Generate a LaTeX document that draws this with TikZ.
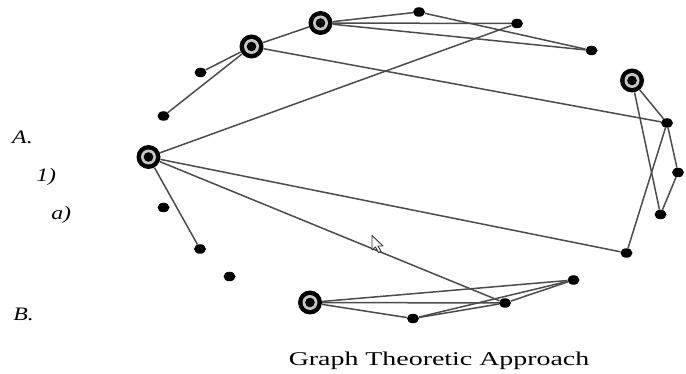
\documentclass[tikz,border=0pt]{standalone}
\usepackage{fontspec}
\setmainfont{Liberation Serif}
\usetikzlibrary{shapes.geometric}

\begin{document}
\begin{tikzpicture}[x=1pt, y=-1pt,
  hub/.style={circle, fill=black, minimum size=24pt, inner sep=0pt,
    path picture={\fill[gray!45] (path picture bounding box.center) circle (7.5pt);
                  \fill[black] (path picture bounding box.center) circle (4.8pt);}},
  dot/.style={ellipse, fill=black, minimum width=12pt, minimum height=9.5pt, inner sep=0pt},
  edge/.style={black!70, line width=1.5pt},
  lbl/.style={font=\itshape\fontsize{19}{22}\selectfont, anchor=base west, inner sep=0pt, xscale=1.25}]
\useasboundingbox (0,0) rectangle (686,374);

% outline labels
\node[lbl] (la) at (12,144) {A.};
\node[lbl] (l1) at (36,182) {1)};
\node[lbl] (lsa) at (51,220) {a)};
\node[lbl] (lb) at (13,320) {B.};

% ringed vertices
\node[hub] (h1) at (320.5,23) {};
\node[hub] (h2) at (251.5,46.5) {};
\node[hub] (h3) at (148.5,157) {};
\node[hub] (h4) at (632,80.5) {};
\node[hub] (h5) at (310,302.5) {};

% plain vertices
\node[dot] (d1) at (419,12) {};
\node[dot] (d2) at (517,23.5) {};
\node[dot] (d3) at (591.5,50.5) {};
\node[dot] (d4) at (200.5,72.5) {};
\node[dot] (d5) at (163.5,116) {};
\node[dot] (d6) at (667,123) {};
\node[dot] (d7) at (678,172.5) {};
\node[dot] (d8) at (660.5,214.5) {};
\node[dot] (d9) at (626.5,253) {};
\node[dot] (d10) at (163.5,207.5) {};
\node[dot] (d11) at (200,249) {};
\node[dot] (d12) at (229.5,276.5) {};
\node[dot] (d13) at (573.5,280) {};
\node[dot] (d14) at (505,303) {};
\node[dot] (d15) at (413,318.5) {};

% top group
\draw[edge] (h1) -- (d1);
\draw[edge] (d1) -- (d3);
\draw[edge] (h1) -- (d2);
\draw[edge] (h1) -- (d3);
\draw[edge] (h1) -- (h2);
\draw[edge] (h2) -- (d4);
\draw[edge] (h2) -- (d5);
\draw[edge] (h2) -- (d6);

% right group
\draw[edge] (h4) -- (d6);
\draw[edge] (h4) -- (d8);
\draw[edge] (d6) -- (d7);
\draw[edge] (d7) -- (d8);
\draw[edge] (d6) -- (d9);

% left hub
\draw[edge] (h3) -- (d2);
\draw[edge] (h3) -- (d11);
\draw[edge] (h3) -- (d9);
\draw[edge] (h3) -- (d14);

% bottom group
\draw[edge] (h5) -- (d13);
\draw[edge] (h5) -- (d14);
\draw[edge] (h5) -- (d15);
\draw[edge] (d15) -- (d14);
\draw[edge] (d15) -- (d13);
\draw[edge] (d14) -- (d13);

% mouse pointer
\draw[black!80, line width=0.9pt, fill=white, line join=round]
  (372,235.5) -- ++(0,14.5) -- ++(3.5,-3) -- ++(3,5.5) -- ++(2.5,-1.2) -- ++(-3,-5.3) -- ++(5,0) -- cycle;

% caption
\node[anchor=base, inner sep=0pt, xscale=1.43, font=\fontsize{19.5}{22}\selectfont] (cap) at (439,366) {Graph Theoretic Approach};
\end{tikzpicture}
\end{document}
